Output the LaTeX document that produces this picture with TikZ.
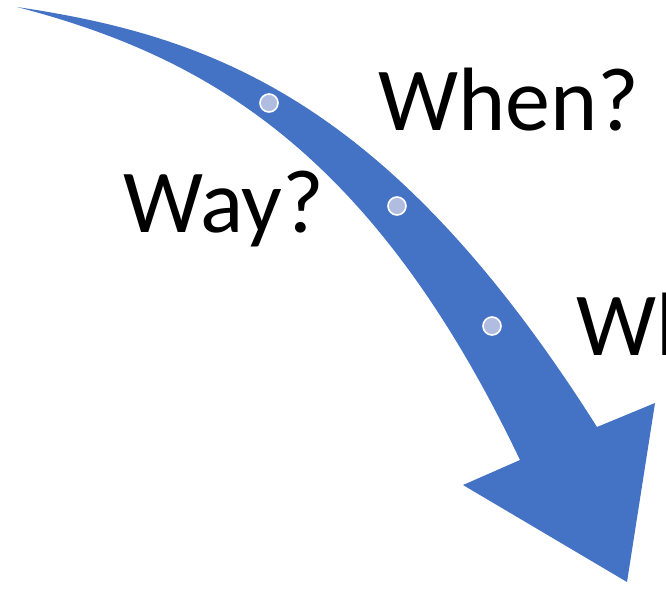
\documentclass[tikz,border=0pt]{standalone}
\usepackage{fontspec}
\setmainfont{Carlito}
\usetikzlibrary{positioning}
\definecolor{arrowblue}{HTML}{4472C4}
\definecolor{dotblue}{HTML}{B0BDE0}

\begin{document}
\begin{tikzpicture}[
    x=1pt, y=-1pt,
    arrowbody/.style={fill=arrowblue, draw=none},
    dot/.style={
        circle,
        fill=dotblue,
        draw=white,
        line width=1.6pt,
        minimum size=18pt,
        inner sep=0pt
    },
    question/.style={
        anchor=base west,
        inner sep=0pt,
        font=\fontsize{90}{100}\selectfont
    }
]
\useasboundingbox (0,0) rectangle (666,592);

% curved arrow
\fill[arrowbody]
    (17,7) .. controls (212,36) and (390,100) .. (597,427)
    -- (655,403) -- (627,582) -- (463,485) -- (520,460)
    .. controls (372,150) and (205,56) .. (17,7)
    -- cycle;

% stops along the way
\node[dot] (s1) at (269,103) {};
\node[dot] (s2) at (397,206) {};
\node[dot] (s3) at (492,326) {};

% questions
\node[question] (way) at (123,232) {Way?};
\node[question] (when) at (378,130) {When?};
\node[question] (wh) at (576,355) {Wh};

\end{tikzpicture}
\end{document}
